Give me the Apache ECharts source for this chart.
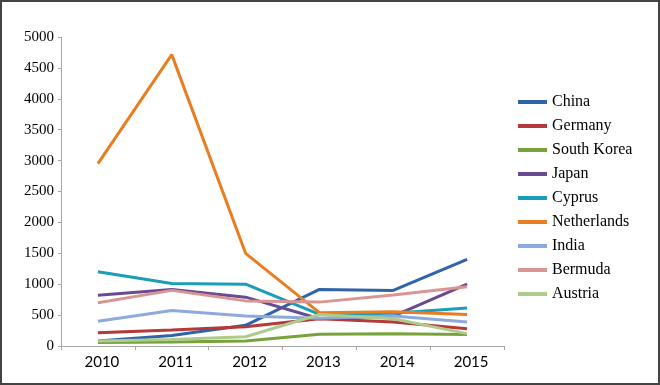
<!DOCTYPE html>
<html><head><meta charset="utf-8">
<script src="https://cdn.jsdelivr.net/npm/echarts@6/dist/echarts.min.js"></script>
<style>
html,body{margin:0;padding:0;background:#fff;}
#c{width:660px;height:385px;box-sizing:border-box;border:2px solid #434343;}
</style></head><body>
<div id="c"></div>
<script>
const years = ['2010','2011','2012','2013','2014','2015'];
const china = [80,170,335,915,900,1400];
const germany = [215,260,310,440,390,280];
const southKorea = [55,65,80,190,200,185];
const japan = [820,915,790,440,485,1000];
const cyprus = [1200,1010,1000,510,530,615];
const netherlands = [2950,4715,1500,540,555,510];
const india = [400,575,485,450,485,390];
const bermuda = [700,900,730,710,825,960];
const austria = [80,105,150,510,440,200];

const seriesDefs = [
  ['China', china, '#2F64A8'],
  ['Germany', germany, '#B5383A'],
  ['South Korea', southKorea, '#77A33A'],
  ['Japan', japan, '#6A4B92'],
  ['Cyprus', cyprus, '#1A9DB8'],
  ['Netherlands', netherlands, '#E87D22'],
  ['India', india, '#8EA9DB'],
  ['Bermuda', bermuda, '#D99594'],
  ['Austria', austria, '#AECB8B']
];

const chart = echarts.init(document.getElementById('c'));
chart.setOption({
  animation: false,
  grid: {left: 59, right: 154, top: 35, bottom: 37},
  legend: {
    orient: 'vertical', left: 511, top: 87,
    icon: 'rect', itemWidth: 29, itemHeight: 4, itemGap: 8,
    textStyle: {fontFamily: 'Liberation Serif', fontSize: 16, color: '#000', lineHeight: 16},
    data: seriesDefs.map(s => s[0])
  },
  xAxis: {
    type: 'category', data: years, boundaryGap: true,
    axisLine: {lineStyle: {color: '#A6A6A6', width: 1}},
    axisTick: {show: true, length: 4, lineStyle: {color: '#A6A6A6'}},
    axisLabel: {fontFamily: 'Lato', fontSize: 15, color: '#000', margin: 9, padding: [0,0,0,8]}
  },
  yAxis: {
    type: 'value', min: 0, max: 5000, interval: 500,
    splitLine: {show: false},
    axisLine: {show: true, lineStyle: {color: '#A6A6A6', width: 1}},
    axisTick: {show: true, length: 3, lineStyle: {color: '#A6A6A6'}},
    axisLabel: {fontFamily: 'Liberation Serif', fontSize: 15, color: '#000', margin: 7,
      formatter: v => String(v)}
  },
  series: seriesDefs.map(s => ({
    name: s[0], type: 'line', data: s[1], showSymbol: false, symbol: 'none',
    lineStyle: {width: 3, color: s[2]}, itemStyle: {color: s[2]}
  }))
});
</script></body></html>
